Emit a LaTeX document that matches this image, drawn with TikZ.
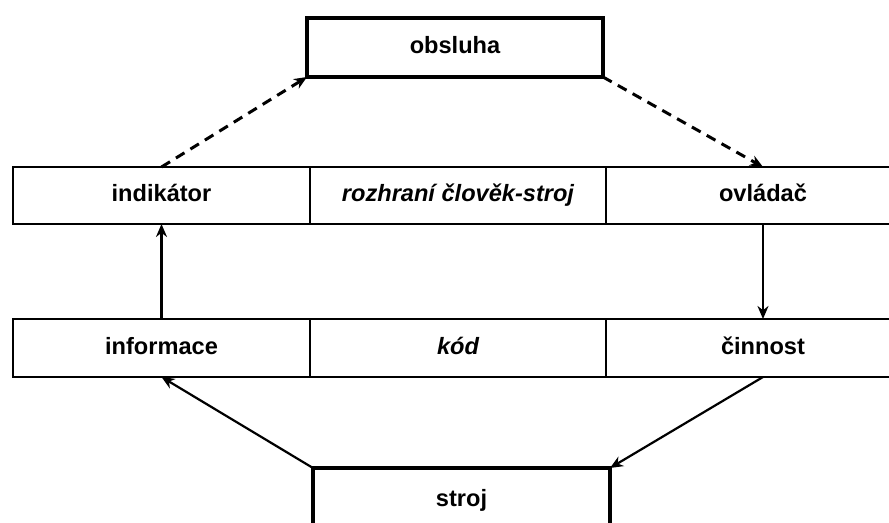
\documentclass[tikz,border=0pt]{standalone}
\usepackage{fontspec}
\setmainfont{Liberation Sans}
\usetikzlibrary{arrows.meta}

\newcommand{\cellfont}{\fontsize{11.8}{13}\selectfont\bfseries}

\begin{document}
\begin{tikzpicture}[x=0.5pt,y=-0.5pt,
  cell/.style={draw,line width=0.9pt,minimum height=28.5pt,inner sep=0pt,outer sep=0pt,text height=9pt,text depth=2.5pt,font=\cellfont},
  bigbox/.style={draw,line width=1.6pt,minimum width=148pt,minimum height=29.5pt,inner sep=0pt,outer sep=0pt,text height=9pt,text depth=2.5pt,font=\cellfont},
  dasharrow/.style={line width=1.5pt,dash pattern=on 5pt off 3.5pt,-{Stealth[length=6.5pt,width=5.5pt]}},
  solidarrow/.style={line width=1.1pt,-{Stealth[length=6.5pt,width=5.5pt]}}]
\clip (0,0) rectangle (889,523);

\node[bigbox] (obsluha) at (455,47.5) {obsluha};

\node[cell,minimum width=148.5pt] (indikator) at (161.5,195.5) {indikátor};
\node[cell,minimum width=148pt] (rozhrani) at (458,195.5) {\itshape rozhraní člověk-stroj};
\node[cell,minimum width=157pt] (ovladac) at (763,195.5) {ovládač};

\node[cell,minimum width=148.5pt,minimum height=29pt] (informace) at (161.5,348) {informace};
\node[cell,minimum width=148pt,minimum height=29pt] (kod) at (458,348) {\itshape kód};
\node[cell,minimum width=157pt,minimum height=29pt] (cinnost) at (763,348) {činnost};

\node[bigbox,minimum width=148.5pt,minimum height=32pt] (stroj) at (461.5,500) {stroj};

\draw[dasharrow] (indikator.north) -- (obsluha.south west);
\draw[dasharrow] (obsluha.south east) -- (ovladac.north);
\draw[solidarrow] (informace.north) -- (indikator.south);
\draw[solidarrow] (ovladac.south) -- (cinnost.north);
\draw[solidarrow] (stroj.north west) -- (informace.south);
\draw[solidarrow] (cinnost.south) -- (stroj.north east);
\end{tikzpicture}
\end{document}
